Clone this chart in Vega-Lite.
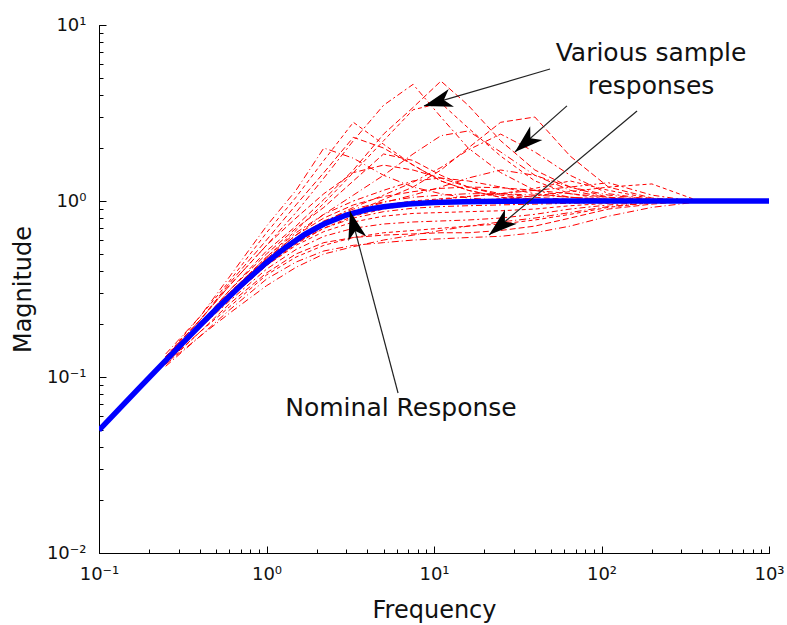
{
  "$schema": "https://vega.github.io/schema/vega-lite/v6.json",
  "width": 670,
  "height": 528,
  "autosize": {"type": "none"},
  "padding": {"left": 99, "top": 25, "right": 18, "bottom": 72},
  "background": "white",
  "config": {
    "view": {"stroke": null},
    "font": "DejaVu Sans",
    "axis": {"grid": false, "domainColor": "#000", "domainWidth": 1, "tickColor": "#000", "tickWidth": 1, "labelColor": "#111", "titleColor": "#111", "labelFont": "DejaVu Sans", "titleFont": "DejaVu Sans", "titleFontWeight": "normal", "labelFontSize": 18, "titleFontSize": 24}
  },
  "datasets": {
    "samples": [
      {"s":1,"f":0.25,"m":0.12},{"s":1,"f":0.4,"m":0.2},{"s":1,"f":0.6,"m":0.31},{"s":1,"f":1,"m":0.52},{"s":1,"f":1.5,"m":0.72},{"s":1,"f":2.2,"m":1.02},{"s":1,"f":3.3,"m":1.5},{"s":1,"f":5,"m":2.4},{"s":1,"f":7.5,"m":3.4},{"s":1,"f":11,"m":4.8},{"s":1,"f":16,"m":3.5},{"s":1,"f":25,"m":2.2},{"s":1,"f":40,"m":1.5},{"s":1,"f":65,"m":1.2},{"s":1,"f":110,"m":1.05},{"s":1,"f":200,"m":1.0},{"s":1,"f":350,"m":1.0},
      {"s":2,"f":0.25,"m":0.13},{"s":2,"f":0.4,"m":0.21},{"s":2,"f":0.6,"m":0.33},{"s":2,"f":1,"m":0.56},{"s":2,"f":1.5,"m":0.86},{"s":2,"f":2.2,"m":1.35},{"s":2,"f":3.3,"m":2.2},{"s":2,"f":5,"m":3.5},{"s":2,"f":7.5,"m":4.6},{"s":2,"f":11,"m":3.0},{"s":2,"f":16,"m":2.0},{"s":2,"f":25,"m":1.45},{"s":2,"f":40,"m":1.15},{"s":2,"f":65,"m":1.05},{"s":2,"f":110,"m":1.01},{"s":2,"f":200,"m":1.0},{"s":2,"f":350,"m":1.0},
      {"s":3,"f":0.25,"m":0.13},{"s":3,"f":0.4,"m":0.22},{"s":3,"f":0.6,"m":0.35},{"s":3,"f":1,"m":0.66},{"s":3,"f":1.5,"m":1.05},{"s":3,"f":2.2,"m":1.7},{"s":3,"f":3.3,"m":2.8},{"s":3,"f":5,"m":2.1},{"s":3,"f":7.5,"m":1.6},{"s":3,"f":11,"m":1.3},{"s":3,"f":16,"m":1.15},{"s":3,"f":25,"m":1.05},{"s":3,"f":40,"m":1.02},{"s":3,"f":65,"m":1.0},{"s":3,"f":110,"m":1.0},{"s":3,"f":200,"m":1.0},{"s":3,"f":350,"m":1.0},
      {"s":4,"f":0.25,"m":0.135},{"s":4,"f":0.4,"m":0.22},{"s":4,"f":0.6,"m":0.37},{"s":4,"f":1,"m":0.72},{"s":4,"f":1.5,"m":1.15},{"s":4,"f":2.2,"m":2.0},{"s":4,"f":3.3,"m":1.75},{"s":4,"f":5,"m":1.4},{"s":4,"f":7.5,"m":1.2},{"s":4,"f":11,"m":1.1},{"s":4,"f":16,"m":1.04},{"s":4,"f":25,"m":1.01},{"s":4,"f":40,"m":1.0},{"s":4,"f":65,"m":1.0},{"s":4,"f":110,"m":1.0},{"s":4,"f":200,"m":1.0},{"s":4,"f":350,"m":1.0},
      {"s":5,"f":0.25,"m":0.12},{"s":5,"f":0.4,"m":0.19},{"s":5,"f":0.6,"m":0.28},{"s":5,"f":1,"m":0.43},{"s":5,"f":1.5,"m":0.58},{"s":5,"f":2.2,"m":0.72},{"s":5,"f":3.3,"m":0.86},{"s":5,"f":5,"m":1.02},{"s":5,"f":7.5,"m":1.2},{"s":5,"f":11,"m":1.5},{"s":5,"f":16,"m":2.0},{"s":5,"f":25,"m":2.8},{"s":5,"f":40,"m":3.0},{"s":5,"f":65,"m":1.8},{"s":5,"f":110,"m":1.2},{"s":5,"f":200,"m":1.04},{"s":5,"f":350,"m":1.0},
      {"s":6,"f":0.25,"m":0.125},{"s":6,"f":0.4,"m":0.2},{"s":6,"f":0.6,"m":0.29},{"s":6,"f":1,"m":0.46},{"s":6,"f":1.5,"m":0.6},{"s":6,"f":2.2,"m":0.76},{"s":6,"f":3.3,"m":0.92},{"s":6,"f":5,"m":1.08},{"s":6,"f":7.5,"m":1.28},{"s":6,"f":11,"m":1.55},{"s":6,"f":16,"m":1.95},{"s":6,"f":25,"m":2.4},{"s":6,"f":40,"m":1.9},{"s":6,"f":65,"m":1.4},{"s":6,"f":110,"m":1.1},{"s":6,"f":200,"m":1.02},{"s":6,"f":350,"m":1.0},
      {"s":7,"f":0.25,"m":0.125},{"s":7,"f":0.4,"m":0.2},{"s":7,"f":0.6,"m":0.3},{"s":7,"f":1,"m":0.48},{"s":7,"f":1.5,"m":0.68},{"s":7,"f":2.2,"m":0.97},{"s":7,"f":3.3,"m":1.45},{"s":7,"f":5,"m":2.2},{"s":7,"f":7.5,"m":3.3},{"s":7,"f":11,"m":3.6},{"s":7,"f":16,"m":2.6},{"s":7,"f":25,"m":1.8},{"s":7,"f":40,"m":1.3},{"s":7,"f":65,"m":1.1},{"s":7,"f":110,"m":1.02},{"s":7,"f":200,"m":1.0},{"s":7,"f":350,"m":1.0},
      {"s":8,"f":0.25,"m":0.12},{"s":8,"f":0.4,"m":0.2},{"s":8,"f":0.6,"m":0.3},{"s":8,"f":1,"m":0.47},{"s":8,"f":1.5,"m":0.64},{"s":8,"f":2.2,"m":0.84},{"s":8,"f":3.3,"m":1.08},{"s":8,"f":5,"m":1.4},{"s":8,"f":7.5,"m":1.85},{"s":8,"f":11,"m":2.35},{"s":8,"f":16,"m":2.5},{"s":8,"f":25,"m":1.9},{"s":8,"f":40,"m":1.4},{"s":8,"f":65,"m":1.15},{"s":8,"f":110,"m":1.04},{"s":8,"f":200,"m":1.0},{"s":8,"f":350,"m":1.0},
      {"s":9,"f":0.25,"m":0.125},{"s":9,"f":0.4,"m":0.2},{"s":9,"f":0.6,"m":0.31},{"s":9,"f":1,"m":0.5},{"s":9,"f":1.5,"m":0.7},{"s":9,"f":2.2,"m":0.92},{"s":9,"f":3.3,"m":1.3},{"s":9,"f":5,"m":1.85},{"s":9,"f":7.5,"m":1.7},{"s":9,"f":11,"m":1.4},{"s":9,"f":16,"m":1.2},{"s":9,"f":25,"m":1.08},{"s":9,"f":40,"m":1.02},{"s":9,"f":65,"m":1.0},{"s":9,"f":110,"m":1.0},{"s":9,"f":200,"m":1.0},{"s":9,"f":350,"m":1.0},
      {"s":10,"f":0.25,"m":0.12},{"s":10,"f":0.4,"m":0.19},{"s":10,"f":0.6,"m":0.28},{"s":10,"f":1,"m":0.44},{"s":10,"f":1.5,"m":0.58},{"s":10,"f":2.2,"m":0.72},{"s":10,"f":3.3,"m":0.84},{"s":10,"f":5,"m":0.92},{"s":10,"f":7.5,"m":0.98},{"s":10,"f":11,"m":1.02},{"s":10,"f":16,"m":1.06},{"s":10,"f":25,"m":1.1},{"s":10,"f":40,"m":1.15},{"s":10,"f":65,"m":1.2},{"s":10,"f":110,"m":1.27},{"s":10,"f":200,"m":1.08},{"s":10,"f":350,"m":1.0},
      {"s":11,"f":0.25,"m":0.12},{"s":11,"f":0.4,"m":0.19},{"s":11,"f":0.6,"m":0.28},{"s":11,"f":1,"m":0.43},{"s":11,"f":1.5,"m":0.57},{"s":11,"f":2.2,"m":0.7},{"s":11,"f":3.3,"m":0.82},{"s":11,"f":5,"m":0.9},{"s":11,"f":7.5,"m":0.95},{"s":11,"f":11,"m":0.98},{"s":11,"f":16,"m":1.0},{"s":11,"f":25,"m":1.03},{"s":11,"f":40,"m":1.07},{"s":11,"f":65,"m":1.13},{"s":11,"f":110,"m":1.2},{"s":11,"f":200,"m":1.25},{"s":11,"f":350,"m":1.03},
      {"s":12,"f":0.25,"m":0.115},{"s":12,"f":0.4,"m":0.17},{"s":12,"f":0.6,"m":0.24},{"s":12,"f":1,"m":0.36},{"s":12,"f":1.5,"m":0.45},{"s":12,"f":2.2,"m":0.52},{"s":12,"f":3.3,"m":0.56},{"s":12,"f":5,"m":0.58},{"s":12,"f":7.5,"m":0.6},{"s":12,"f":11,"m":0.61},{"s":12,"f":16,"m":0.62},{"s":12,"f":25,"m":0.63},{"s":12,"f":40,"m":0.66},{"s":12,"f":65,"m":0.72},{"s":12,"f":110,"m":0.82},{"s":12,"f":200,"m":0.92},{"s":12,"f":350,"m":0.98},
      {"s":13,"f":0.25,"m":0.12},{"s":13,"f":0.4,"m":0.18},{"s":13,"f":0.6,"m":0.26},{"s":13,"f":1,"m":0.39},{"s":13,"f":1.5,"m":0.5},{"s":13,"f":2.2,"m":0.58},{"s":13,"f":3.3,"m":0.62},{"s":13,"f":5,"m":0.64},{"s":13,"f":7.5,"m":0.65},{"s":13,"f":11,"m":0.66},{"s":13,"f":16,"m":0.66},{"s":13,"f":25,"m":0.68},{"s":13,"f":40,"m":0.72},{"s":13,"f":65,"m":0.8},{"s":13,"f":110,"m":0.9},{"s":13,"f":200,"m":0.96},{"s":13,"f":350,"m":1.0},
      {"s":14,"f":0.25,"m":0.12},{"s":14,"f":0.4,"m":0.19},{"s":14,"f":0.6,"m":0.27},{"s":14,"f":1,"m":0.41},{"s":14,"f":1.5,"m":0.53},{"s":14,"f":2.2,"m":0.63},{"s":14,"f":3.3,"m":0.7},{"s":14,"f":5,"m":0.74},{"s":14,"f":7.5,"m":0.76},{"s":14,"f":11,"m":0.77},{"s":14,"f":16,"m":0.78},{"s":14,"f":25,"m":0.8},{"s":14,"f":40,"m":0.84},{"s":14,"f":65,"m":0.9},{"s":14,"f":110,"m":0.95},{"s":14,"f":200,"m":0.99},{"s":14,"f":350,"m":1.0},
      {"s":15,"f":0.25,"m":0.123},{"s":15,"f":0.4,"m":0.19},{"s":15,"f":0.6,"m":0.28},{"s":15,"f":1,"m":0.43},{"s":15,"f":1.5,"m":0.56},{"s":15,"f":2.2,"m":0.67},{"s":15,"f":3.3,"m":0.76},{"s":15,"f":5,"m":0.82},{"s":15,"f":7.5,"m":0.85},{"s":15,"f":11,"m":0.86},{"s":15,"f":16,"m":0.87},{"s":15,"f":25,"m":0.88},{"s":15,"f":40,"m":0.9},{"s":15,"f":65,"m":0.94},{"s":15,"f":110,"m":0.97},{"s":15,"f":200,"m":1.0},{"s":15,"f":350,"m":1.0},
      {"s":16,"f":0.25,"m":0.125},{"s":16,"f":0.4,"m":0.2},{"s":16,"f":0.6,"m":0.29},{"s":16,"f":1,"m":0.46},{"s":16,"f":1.5,"m":0.62},{"s":16,"f":2.2,"m":0.77},{"s":16,"f":3.3,"m":0.9},{"s":16,"f":5,"m":0.99},{"s":16,"f":7.5,"m":1.05},{"s":16,"f":11,"m":1.08},{"s":16,"f":16,"m":1.1},{"s":16,"f":25,"m":1.1},{"s":16,"f":40,"m":1.08},{"s":16,"f":65,"m":1.05},{"s":16,"f":110,"m":1.02},{"s":16,"f":200,"m":1.0},{"s":16,"f":350,"m":1.0},
      {"s":17,"f":0.25,"m":0.125},{"s":17,"f":0.4,"m":0.2},{"s":17,"f":0.6,"m":0.3},{"s":17,"f":1,"m":0.47},{"s":17,"f":1.5,"m":0.64},{"s":17,"f":2.2,"m":0.8},{"s":17,"f":3.3,"m":0.95},{"s":17,"f":5,"m":1.06},{"s":17,"f":7.5,"m":1.13},{"s":17,"f":11,"m":1.18},{"s":17,"f":16,"m":1.2},{"s":17,"f":25,"m":1.19},{"s":17,"f":40,"m":1.15},{"s":17,"f":65,"m":1.1},{"s":17,"f":110,"m":1.05},{"s":17,"f":200,"m":1.02},{"s":17,"f":350,"m":1.0},
      {"s":18,"f":0.25,"m":0.127},{"s":18,"f":0.4,"m":0.2},{"s":18,"f":0.6,"m":0.3},{"s":18,"f":1,"m":0.48},{"s":18,"f":1.5,"m":0.66},{"s":18,"f":2.2,"m":0.84},{"s":18,"f":3.3,"m":1.0},{"s":18,"f":5,"m":1.15},{"s":18,"f":7.5,"m":1.3},{"s":18,"f":11,"m":1.35},{"s":18,"f":16,"m":1.3},{"s":18,"f":25,"m":1.2},{"s":18,"f":40,"m":1.1},{"s":18,"f":65,"m":1.05},{"s":18,"f":110,"m":1.02},{"s":18,"f":200,"m":1.0},{"s":18,"f":350,"m":1.0},
      {"s":19,"f":0.25,"m":0.118},{"s":19,"f":0.4,"m":0.18},{"s":19,"f":0.6,"m":0.25},{"s":19,"f":1,"m":0.38},{"s":19,"f":1.5,"m":0.48},{"s":19,"f":2.2,"m":0.56},{"s":19,"f":3.3,"m":0.62},{"s":19,"f":5,"m":0.66},{"s":19,"f":7.5,"m":0.68},{"s":19,"f":11,"m":0.7},{"s":19,"f":16,"m":0.72},{"s":19,"f":25,"m":0.74},{"s":19,"f":40,"m":0.78},{"s":19,"f":65,"m":0.84},{"s":19,"f":110,"m":0.92},{"s":19,"f":200,"m":0.98},{"s":19,"f":350,"m":1.0},
      {"s":20,"f":0.25,"m":0.123},{"s":20,"f":0.4,"m":0.19},{"s":20,"f":0.6,"m":0.29},{"s":20,"f":1,"m":0.45},{"s":20,"f":1.5,"m":0.6},{"s":20,"f":2.2,"m":0.75},{"s":20,"f":3.3,"m":0.88},{"s":20,"f":5,"m":0.98},{"s":20,"f":7.5,"m":1.08},{"s":20,"f":11,"m":1.2},{"s":20,"f":16,"m":1.35},{"s":20,"f":25,"m":1.5},{"s":20,"f":40,"m":1.4},{"s":20,"f":65,"m":1.2},{"s":20,"f":110,"m":1.08},{"s":20,"f":200,"m":1.02},{"s":20,"f":350,"m":1.0},
      {"s":21,"f":0.25,"m":0.13},{"s":21,"f":0.4,"m":0.21},{"s":21,"f":0.6,"m":0.33},{"s":21,"f":1,"m":0.56},{"s":21,"f":1.5,"m":0.8},{"s":21,"f":2.2,"m":1.1},{"s":21,"f":3.3,"m":1.45},{"s":21,"f":5,"m":1.6},{"s":21,"f":7.5,"m":1.5},{"s":21,"f":11,"m":1.35},{"s":21,"f":16,"m":1.2},{"s":21,"f":25,"m":1.1},{"s":21,"f":40,"m":1.05},{"s":21,"f":65,"m":1.02},{"s":21,"f":110,"m":1.0},{"s":21,"f":200,"m":1.0},{"s":21,"f":350,"m":1.0},
      {"s":22,"f":0.25,"m":0.12},{"s":22,"f":0.4,"m":0.19},{"s":22,"f":0.6,"m":0.28},{"s":22,"f":1,"m":0.44},{"s":22,"f":1.5,"m":0.58},{"s":22,"f":2.2,"m":0.7},{"s":22,"f":3.3,"m":0.8},{"s":22,"f":5,"m":0.87},{"s":22,"f":7.5,"m":0.91},{"s":22,"f":11,"m":0.93},{"s":22,"f":16,"m":0.94},{"s":22,"f":25,"m":0.95},{"s":22,"f":40,"m":0.96},{"s":22,"f":65,"m":0.97},{"s":22,"f":110,"m":0.98},{"s":22,"f":200,"m":1.0},{"s":22,"f":350,"m":1.0},
      {"s":23,"f":0.25,"m":0.124},{"s":23,"f":0.4,"m":0.2},{"s":23,"f":0.6,"m":0.29},{"s":23,"f":1,"m":0.46},{"s":23,"f":1.5,"m":0.61},{"s":23,"f":2.2,"m":0.75},{"s":23,"f":3.3,"m":0.87},{"s":23,"f":5,"m":0.95},{"s":23,"f":7.5,"m":1.0},{"s":23,"f":11,"m":1.03},{"s":23,"f":16,"m":1.06},{"s":23,"f":25,"m":1.1},{"s":23,"f":40,"m":1.18},{"s":23,"f":65,"m":1.3},{"s":23,"f":110,"m":1.15},{"s":23,"f":200,"m":1.03},{"s":23,"f":350,"m":1.0},
      {"s":24,"f":0.25,"m":0.118},{"s":24,"f":0.4,"m":0.17},{"s":24,"f":0.6,"m":0.23},{"s":24,"f":1,"m":0.33},{"s":24,"f":1.5,"m":0.42},{"s":24,"f":2.2,"m":0.5},{"s":24,"f":3.3,"m":0.55},{"s":24,"f":5,"m":0.6},{"s":24,"f":7.5,"m":0.64},{"s":24,"f":11,"m":0.68},{"s":24,"f":16,"m":0.72},{"s":24,"f":25,"m":0.76},{"s":24,"f":40,"m":0.8},{"s":24,"f":65,"m":0.86},{"s":24,"f":110,"m":0.93},{"s":24,"f":200,"m":0.98},{"s":24,"f":350,"m":1.0},
      {"s":25,"f":0.25,"m":0.13},{"s":25,"f":0.4,"m":0.21},{"s":25,"f":0.6,"m":0.34},{"s":25,"f":1,"m":0.6},{"s":25,"f":1.5,"m":0.95},{"s":25,"f":2.2,"m":1.45},{"s":25,"f":3.3,"m":2.3},{"s":25,"f":5,"m":2.0},{"s":25,"f":7.5,"m":1.6},{"s":25,"f":11,"m":1.3},{"s":25,"f":16,"m":1.15},{"s":25,"f":25,"m":1.05},{"s":25,"f":40,"m":1.0},{"s":25,"f":65,"m":1.0},{"s":25,"f":110,"m":1.0},{"s":25,"f":200,"m":1.0},{"s":25,"f":350,"m":1.0}
    ],
    "nominal": [
      {"f":0.1,"m":0.0499},{"f":0.13,"m":0.0649},{"f":0.17,"m":0.0847},{"f":0.22,"m":0.1093},{"f":0.3,"m":0.1483},{"f":0.4,"m":0.1961},{"f":0.5,"m":0.2425},{"f":0.7,"m":0.3304},{"f":1,"m":0.4472},{"f":1.3,"m":0.5450},{"f":1.7,"m":0.6476},{"f":2.2,"m":0.7399},{"f":3,"m":0.8321},{"f":4,"m":0.8944},{"f":5,"m":0.9285},{"f":7,"m":0.9615},{"f":10,"m":0.9806},{"f":15,"m":0.9912},{"f":25,"m":0.9968},{"f":50,"m":0.9992},{"f":100,"m":0.9998},{"f":1000,"m":1.0}
    ],
    "arrows": [
      {"a":1,"f":49.3,"m":5.62,"tip":false},{"a":1,"f":8.71,"m":3.47,"tip":true},
      {"a":2,"f":62.2,"m":3.47,"tip":false},{"a":2,"f":30.4,"m":1.898,"tip":true},
      {"a":3,"f":163,"m":3.246,"tip":false},{"a":3,"f":21.3,"m":0.641,"tip":true},
      {"a":4,"f":6.1,"m":0.0811,"tip":false},{"a":4,"f":3.15,"m":0.877,"tip":true}
    ],
    "labels": [
      {"t":"Various sample","f":197.5,"m":6.245},
      {"t":"responses","f":197.5,"m":4.055},
      {"t":"Nominal Response","f":6.35,"m":0.060}
    ]
  },
  "resolve": {"axis": {"x": "independent", "y": "independent"}},
  "layer": [
    {
      "data": {"name": "samples"},
      "mark": {"type": "line", "color": "#ff0000", "strokeWidth": 1, "clip": true},
      "encoding": {
        "x": {"field": "f", "type": "quantitative", "scale": {"type": "log", "domain": [0.1, 1000], "nice": false},
          "axis": {"orient": "bottom", "values": [0.1,0.2,0.3,0.4,0.5,0.6,0.7,0.8,0.9,1,2,3,4,5,6,7,8,9,10,20,30,40,50,60,70,80,90,100,200,300,400,500,600,700,800,900,1000], "labels": false, "tickSize": -4, "title": null}},
        "y": {"field": "m", "type": "quantitative", "scale": {"type": "log", "domain": [0.01, 10], "nice": false},
          "axis": {"orient": "left", "values": [0.01,0.02,0.03,0.04,0.05,0.06,0.07,0.08,0.09,0.1,0.2,0.3,0.4,0.5,0.6,0.7,0.8,0.9,1,2,3,4,5,6,7,8,9,10], "labels": false, "tickSize": -4, "title": null}},
        "detail": {"field": "s", "type": "nominal"},
        "strokeDash": {"field": "s", "type": "nominal", "legend": null, "scale": {"range": [[6,3],[6,3,2,3],[4,3],[7,3,1,3]]}}
      }
    },
    {
      "data": {"name": "nominal"},
      "mark": {"type": "line", "color": "#0000ff", "strokeWidth": 5.5, "clip": true},
      "encoding": {
        "x": {"field": "f", "type": "quantitative", "scale": {"type": "log", "domain": [0.1, 1000], "nice": false},
          "axis": {"orient": "bottom", "values": [0.1, 1, 10, 100, 1000], "tickSize": -7, "labelPadding": 19, "labelFlush": false,
            "labelExpr": "datum.value == 0.1 ? '10⁻¹' : datum.value == 1 ? '10⁰' : datum.value == 10 ? '10¹' : datum.value == 100 ? '10²' : datum.value == 1000 ? '10³' : ''",
            "title": "Frequency", "titleX": 335, "titleY": 64, "titleBaseline": "alphabetic", "titleAlign": "center"}},
        "y": {"field": "m", "type": "quantitative", "scale": {"type": "log", "domain": [0.01, 10], "nice": false},
          "axis": {"orient": "left", "values": [0.01, 0.1, 1, 10], "tickSize": -7, "labelPadding": 20, "labelFlush": false,
            "labelExpr": "datum.value == 0.01 ? '10⁻²' : datum.value == 0.1 ? '10⁻¹' : datum.value == 1 ? '10⁰' : datum.value == 10 ? '10¹' : ''",
            "title": "Magnitude", "titleX": -76, "titleY": 264, "titleAngle": -90, "titleBaseline": "middle", "titleAlign": "center"}}
      }
    },
    {
      "data": {"name": "arrows"},
      "mark": {"type": "line", "color": "#222", "strokeWidth": 1.2},
      "encoding": {
        "x": {"field": "f", "type": "quantitative", "scale": {"type": "log", "domain": [0.1, 1000], "nice": false}, "axis": null},
        "y": {"field": "m", "type": "quantitative", "scale": {"type": "log", "domain": [0.01, 10], "nice": false}, "axis": null},
        "detail": {"field": "a", "type": "nominal"}
      }
    },
    {
      "data": {"name": "arrows"},
      "transform": [{"filter": "datum.tip && datum.a == 1"}],
      "mark": {"type": "point", "shape": "M0,0 L1,3.1 L0,2.25 L-1,3.1 Z", "filled": true, "color": "#000", "size": 340, "angle": 253.6, "opacity": 1},
      "encoding": {
        "x": {"field": "f", "type": "quantitative", "axis": null},
        "y": {"field": "m", "type": "quantitative", "axis": null}
      }
    },
    {
      "data": {"name": "arrows"},
      "transform": [{"filter": "datum.tip && datum.a == 2"}],
      "mark": {"type": "point", "shape": "M0,0 L1,3.1 L0,2.25 L-1,3.1 Z", "filled": true, "color": "#000", "size": 340, "angle": 228.5, "opacity": 1},
      "encoding": {
        "x": {"field": "f", "type": "quantitative", "axis": null},
        "y": {"field": "m", "type": "quantitative", "axis": null}
      }
    },
    {
      "data": {"name": "arrows"},
      "transform": [{"filter": "datum.tip && datum.a == 3"}],
      "mark": {"type": "point", "shape": "M0,0 L1,3.1 L0,2.25 L-1,3.1 Z", "filled": true, "color": "#000", "size": 340, "angle": 230, "opacity": 1},
      "encoding": {
        "x": {"field": "f", "type": "quantitative", "axis": null},
        "y": {"field": "m", "type": "quantitative", "axis": null}
      }
    },
    {
      "data": {"name": "arrows"},
      "transform": [{"filter": "datum.tip && datum.a == 4"}],
      "mark": {"type": "point", "shape": "M0,0 L1,3.1 L0,2.25 L-1,3.1 Z", "filled": true, "color": "#000", "size": 340, "angle": 345.2, "opacity": 1},
      "encoding": {
        "x": {"field": "f", "type": "quantitative", "axis": null},
        "y": {"field": "m", "type": "quantitative", "axis": null}
      }
    },
    {
      "data": {"name": "labels"},
      "mark": {"type": "text", "font": "DejaVu Sans", "fontSize": 25, "color": "#111", "align": "center", "baseline": "alphabetic"},
      "encoding": {
        "x": {"field": "f", "type": "quantitative", "axis": null},
        "y": {"field": "m", "type": "quantitative", "axis": null},
        "text": {"field": "t"}
      }
    }
  ]
}
